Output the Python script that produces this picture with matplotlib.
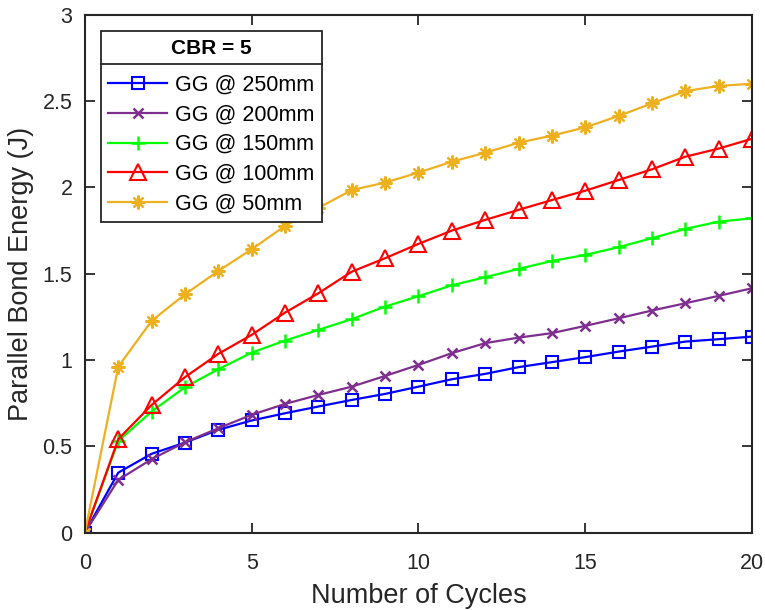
import matplotlib
matplotlib.use('Agg')
import matplotlib.pyplot as plt
from matplotlib.lines import Line2D

plt.rcParams['font.family'] = ['Liberation Sans', 'DejaVu Sans']

cycles = list(range(0, 21))

gg_250 = [0, 0.347, 0.456, 0.521, 0.595, 0.649, 0.691, 0.730, 0.768, 0.803, 0.845,
          0.888, 0.919, 0.958, 0.987, 1.016, 1.048, 1.077, 1.106, 1.120, 1.135]
gg_200 = [0, 0.305, 0.425, 0.523, 0.604, 0.682, 0.745, 0.797, 0.845, 0.907, 0.971,
          1.039, 1.097, 1.129, 1.155, 1.197, 1.241, 1.286, 1.328, 1.371, 1.415]
gg_150 = [0, 0.530, 0.701, 0.842, 0.946, 1.042, 1.112, 1.174, 1.236, 1.309, 1.369,
          1.432, 1.479, 1.527, 1.573, 1.608, 1.653, 1.705, 1.759, 1.801, 1.820]
gg_100 = [0, 0.541, 0.739, 0.900, 1.035, 1.145, 1.274, 1.386, 1.511, 1.589, 1.672,
          1.749, 1.811, 1.869, 1.926, 1.980, 2.042, 2.104, 2.177, 2.224, 2.281]
gg_50 = [0, 0.961, 1.226, 1.380, 1.515, 1.641, 1.776, 1.880, 1.984, 2.027, 2.085,
         2.148, 2.200, 2.258, 2.299, 2.347, 2.413, 2.486, 2.557, 2.587, 2.600]

labels = ['GG @ 250mm', 'GG @ 200mm', 'GG @ 150mm', 'GG @ 100mm', 'GG @ 50mm']

dark = '#262626'

fig = plt.figure(figsize=(7.65, 6.1), dpi=100)
ax = fig.add_axes([0.111, 0.127, 0.872, 0.849])

ax.plot(cycles, gg_250, color='#0000ff', marker='s', markersize=8, mfc='none',
        mew=1.5, lw=1.6, label=labels[0])
ax.plot(cycles, gg_200, color='#7e2f8e', marker='x', markersize=7,
        mew=1.8, lw=1.6, label=labels[1])
ax.plot(cycles, gg_150, color='#00ff00', marker='+', markersize=10,
        mew=1.8, lw=1.6, label=labels[2])
ax.plot(cycles, gg_100, color='#ff0000', marker='^', markersize=11, mfc='none',
        mew=1.5, lw=1.6, label=labels[3])
ax.plot(cycles, gg_50, color='#edb120', marker=(8, 2, 0), markersize=10,
        mew=1.6, lw=1.6, label=labels[4])

ax.set_xlim(0, 20)
ax.set_ylim(0, 3)
ax.set_xticks([0, 5, 10, 15, 20])
ax.set_yticks([0, 0.5, 1, 1.5, 2, 2.5, 3])
ax.set_yticklabels(['0', '0.5', '1', '1.5', '2', '2.5', '3'])
ax.tick_params(direction='in', top=True, right=True, length=7, width=1.3,
               labelsize=15.5, colors=dark)
ax.tick_params(axis='x', pad=15)
ax.tick_params(axis='y', pad=9)
for s in ax.spines.values():
    s.set_linewidth(1.5)
    s.set_color(dark)

ax.set_xlabel('Number of Cycles', fontsize=19.5, color=dark, labelpad=6)
ax.set_ylabel('Parallel Bond Energy (J)', fontsize=19.5, color=dark, labelpad=6)

leg = ax.legend(loc='upper left', bbox_to_anchor=(0.024, 0.968), fontsize=15.5,
                title='CBR = 5', title_fontproperties={'weight': 'bold', 'size': 15},
                frameon=True, fancybox=False, edgecolor=dark, framealpha=1,
                handlelength=2.7, handletextpad=0.4, labelspacing=0.41,
                borderpad=0.35, borderaxespad=0)
leg.get_frame().set_linewidth(1.3)
leg._legend_box.sep = 12

# separator line under the legend title
fig.canvas.draw()
r = fig.canvas.get_renderer()
fb = leg.get_frame().get_window_extent(r)
tb = leg.get_title().get_window_extent(r)
ysep = tb.y0 - 6
inv = fig.transFigure.inverted()
(x0, y0), (x1, _) = inv.transform([(fb.x0, ysep), (fb.x1, ysep)])
fig.add_artist(Line2D([x0, x1], [y0, y0], transform=fig.transFigure,
                      color=dark, lw=1.3, zorder=10))

fig.savefig('out.png', dpi=100)
